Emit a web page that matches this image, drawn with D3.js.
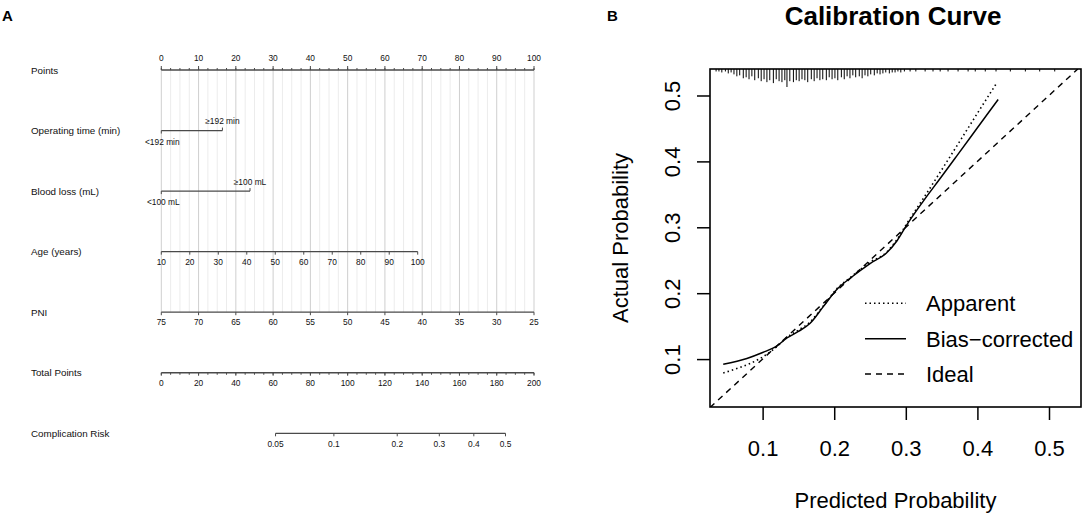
<!DOCTYPE html>
<html><head><meta charset="utf-8">
<script src="https://cdn.jsdelivr.net/npm/d3@7"></script>
<style>body{margin:0;background:#fff}svg{display:block;font-family:"Liberation Sans",Arial,sans-serif}</style>
</head><body><svg id="c" width="1084" height="518"></svg>
<script>
// ---------- Nomogram data ----------
const rowLabels = ["Points","Operating time (min)","Blood loss (mL)","Age (years)","PNI","Total Points","Complication Risk"];
const pointsTicks = [0,10,20,30,40,50,60,70,80,90,100];
const opTimeCats = ["<192 min","\u2265192 min"];
const opTimePoints = [0,16.4];
const bloodCats = ["<100 mL","\u2265100 mL"];
const bloodPoints = [0,23.8];
const ageTicks = [10,20,30,40,50,60,70,80,90,100];
const ageRangePoints = [0,68.8];
const pniTicks = [75,70,65,60,55,50,45,40,35,30,25];
const pniRangePoints = [0,100];
const totalTicks = [0,20,40,60,80,100,120,140,160,180,200];
const riskTicks = [0.05,0.1,0.2,0.3,0.4,0.5];
const riskTotalPoints = [61.3,184.7]; // total points at risk 0.05 and 0.5

// ---------- Calibration data ----------
const calTicks = [0.1,0.2,0.3,0.4,0.5];
const xLim = [0.0265,0.5447];
const yLim = [0.0273,0.5402];
const apparentX = [0.045,0.070,0.095,0.120,0.134,0.150,0.166,0.185,0.203,0.225,0.250,0.273,0.288,0.301,0.324,0.350,0.371,0.400,0.427];
const apparentY = [0.079,0.088,0.100,0.119,0.133,0.144,0.156,0.181,0.206,0.226,0.247,0.262,0.282,0.305,0.343,0.387,0.423,0.473,0.519];
const biasX = [0.045,0.078,0.100,0.120,0.134,0.150,0.166,0.185,0.203,0.225,0.250,0.273,0.288,0.301,0.324,0.350,0.371,0.400,0.429];
const biasY = [0.092,0.101,0.110,0.120,0.132,0.142,0.154,0.180,0.205,0.225,0.245,0.261,0.280,0.303,0.339,0.377,0.408,0.451,0.494];
const rugP = [0.035,0.039,0.043,0.048,0.052,0.056,0.060,0.064,0.068,0.073,0.077,0.081,0.085,0.089,0.094,0.098,0.102,0.106,0.110,0.115,0.119,0.123,0.127,0.131,0.134,0.138,0.143,0.147,0.151,0.155,0.159,0.163,0.168,0.172,0.176,0.180,0.184,0.189,0.193,0.197,0.201,0.205,0.210,0.214,0.218,0.222,0.226,0.230,0.235,0.239,0.243,0.247,0.251,0.256,0.260,0.264,0.268,0.272,0.277,0.281,0.285,0.289,0.293,0.298,0.306,0.314,0.327,0.338,0.348,0.359,0.373,0.387,0.397,0.411,0.426,0.446,0.467,0.487,0.508];
const rugN = [1,1,2,1,3,2,4,6,5,8,7,9,6,10,8,11,9,12,10,13,9,11,12,10,17,11,12,10,11,9,10,12,9,11,8,10,9,10,7,9,8,10,7,9,6,8,5,7,6,8,5,6,4,5,3,4,3,2,3,2,2,1,2,1,1,1,1,1,1,1,1,1,1,1,1,1,1,1,1];
const legendLabels = ["Apparent","Bias\u2212corrected","Ideal"];

const svg = d3.select("#c");
const FONT = '"Liberation Sans",Arial,sans-serif';

// ================= Panel A : nomogram =================
const A = svg.append("g");
A.append("text").attr("x",2).attr("y",20.5).attr("font-weight","bold").attr("font-size",15).text("A");

const px = d3.scaleLinear([0,100],[161.3,534]);
const ny = d3.scalePoint(rowLabels,[70,433.3]);
const totalX = d3.scaleLinear([0,200],[px(0),px(100)]);
const ageX = d3.scaleLinear([ageTicks[0],ageTicks[ageTicks.length-1]],[px(ageRangePoints[0]),px(ageRangePoints[1])]);
const pniX = d3.scaleLinear([pniTicks[0],pniTicks[pniTicks.length-1]],[px(pniRangePoints[0]),px(pniRangePoints[1])]);
const logit = p => Math.log(p/(1-p));
const riskX = d3.scaleLinear([logit(riskTicks[0]),logit(riskTicks[riskTicks.length-1])],[totalX(riskTotalPoints[0]),totalX(riskTotalPoints[1])]);

// gridlines
const gTop = ny("Points"), gBot = ny("PNI");
const gridVals = d3.range(0,100.001,2.5);
A.append("g").selectAll("line").data(gridVals).join("line")
  .attr("x1",d=>px(d)).attr("x2",d=>px(d)).attr("y1",gTop).attr("y2",gBot)
  .attr("stroke",d=>d%10===0?"#cfcfcf":"#ececec").attr("stroke-width",1);

// row labels
A.append("g").selectAll("text").data(rowLabels).join("text")
  .attr("x",31).attr("y",d=>ny(d)+3.5).attr("font-size",9.8).attr("fill","#111").text(d=>d);

const axCol = "#4a4a4a";
function hline(y,x1,x2){A.append("line").attr("x1",x1).attr("x2",x2).attr("y1",y).attr("y2",y).attr("stroke",axCol).attr("stroke-width",1.3);}
function ticks(vals,scale,y,len){A.append("g").selectAll("line").data(vals).join("line")
  .attr("x1",d=>scale(d)).attr("x2",d=>scale(d)).attr("y1",y).attr("y2",y+len).attr("stroke",axCol).attr("stroke-width",1);}
function labels(vals,scale,y,fmt){A.append("g").selectAll("text").data(vals).join("text")
  .attr("x",d=>scale(d)).attr("y",y).attr("text-anchor","middle").attr("font-size",8.4).attr("fill","#111").text(fmt||(d=>d));}

// Points
let y = ny("Points");
hline(y,px(0),px(100));
ticks(d3.range(0,100.001,2.5),px,y,-2);
ticks(pointsTicks,px,y,-4);
labels(pointsTicks,px,y-8.7);

// Operating time
y = ny("Operating time (min)");
hline(y,px(opTimePoints[0]),px(opTimePoints[1]));
A.append("line").attr("x1",px(opTimePoints[0])).attr("x2",px(opTimePoints[0])).attr("y1",y).attr("y2",y+3).attr("stroke",axCol);
A.append("line").attr("x1",px(opTimePoints[1])).attr("x2",px(opTimePoints[1])).attr("y1",y).attr("y2",y-3).attr("stroke",axCol);
A.append("text").attr("x",px(opTimePoints[0])+1).attr("y",y+14).attr("text-anchor","middle").attr("font-size",8.4).attr("fill","#111").text(opTimeCats[0]);
A.append("text").attr("x",px(opTimePoints[1])).attr("y",y-6.3).attr("text-anchor","middle").attr("font-size",8.4).attr("fill","#111").text(opTimeCats[1]);

// Blood loss
y = ny("Blood loss (mL)");
hline(y,px(bloodPoints[0]),px(bloodPoints[1]));
A.append("line").attr("x1",px(bloodPoints[0])).attr("x2",px(bloodPoints[0])).attr("y1",y).attr("y2",y+3).attr("stroke",axCol);
A.append("line").attr("x1",px(bloodPoints[1])).attr("x2",px(bloodPoints[1])).attr("y1",y).attr("y2",y-3).attr("stroke",axCol);
A.append("text").attr("x",px(bloodPoints[0])+2).attr("y",y+13.5).attr("text-anchor","middle").attr("font-size",8.4).attr("fill","#111").text(bloodCats[0]);
A.append("text").attr("x",px(bloodPoints[1])).attr("y",y-6.3).attr("text-anchor","middle").attr("font-size",8.4).attr("fill","#111").text(bloodCats[1]);

// Age
y = ny("Age (years)");
hline(y,ageX(10),ageX(100));
ticks(ageTicks,ageX,y,3);
labels(ageTicks,ageX,y+13);

// PNI
y = ny("PNI");
hline(y,pniX(75),pniX(25));
ticks(pniTicks,pniX,y,3);
labels(pniTicks,pniX,y+13);

// Total points
y = ny("Total Points");
hline(y,totalX(0),totalX(200));
ticks(d3.range(0,200.001,5),totalX,y,2);
ticks(totalTicks,totalX,y,3);
labels(totalTicks,totalX,y+13);

// Complication risk
y = ny("Complication Risk");
const rx = d => riskX(logit(d));
hline(y,rx(riskTicks[0]),rx(riskTicks[riskTicks.length-1]));
ticks(riskTicks,rx,y,3);
labels(riskTicks,rx,y+13.7,d=>String(d));

// ================= Panel B : calibration =================
const B = svg.append("g");
B.append("text").attr("x",607).attr("y",20.5).attr("font-weight","bold").attr("font-size",15).text("B");
const box = {l:710,r:1081,t:69,b:407};
const cx = d3.scaleLinear(xLim,[box.l,box.r]);
const cy = d3.scaleLinear(yLim,[box.b,box.t]);

B.append("text").attr("x",893).attr("y",24.5).attr("text-anchor","middle")
  .attr("font-weight","bold").attr("font-size",26).text("Calibration Curve");

B.append("clipPath").attr("id","clip").append("rect").attr("x",box.l).attr("y",box.t).attr("width",box.r-box.l).attr("height",box.b-box.t);

// axes
const xAxis = d3.axisBottom(cx).tickValues(calTicks).tickSize(13).tickSizeOuter(0).tickPadding(8).tickFormat(d3.format(".1f"));
const gx = B.append("g").attr("transform",`translate(0,${box.b})`).call(xAxis);
gx.select(".domain").remove();
gx.selectAll("line").attr("stroke","#000").attr("stroke-width",1.5);
gx.selectAll("text").attr("font-size",22).attr("font-family",FONT).attr("fill","#000").attr("dy",null).attr("y",49);

const yAxis = d3.axisLeft(cy).tickValues(calTicks).tickSize(13).tickSizeOuter(0).tickFormat(d3.format(".1f"));
const gy = B.append("g").attr("transform",`translate(${box.l},0)`).call(yAxis);
gy.select(".domain").remove();
gy.selectAll("line").attr("stroke","#000").attr("stroke-width",1.5);
gy.selectAll("text").attr("font-size",22).attr("font-family",FONT).attr("fill","#000")
  .attr("x",null).attr("dy",null).attr("text-anchor","middle")
  .attr("transform","translate(-30,0) rotate(-90)");

B.append("text").attr("x",(box.l+box.r)/2).attr("y",508).attr("text-anchor","middle").attr("font-size",22).text("Predicted Probability");
B.append("text").attr("transform",`translate(628,${(box.t+box.b)/2}) rotate(-90)`).attr("text-anchor","middle").attr("font-size",22).text("Actual Probability");

const plot = B.append("g").attr("clip-path","url(#clip)");
// ideal
plot.append("line").attr("x1",cx(xLim[0])).attr("y1",cy(xLim[0])).attr("x2",cx(yLim[1])).attr("y2",cy(yLim[1]))
  .attr("stroke","#000").attr("stroke-width",1.4).attr("stroke-dasharray","6,5");
const line = d3.line().x(d=>cx(d[0])).y(d=>cy(d[1])).curve(d3.curveMonotoneX);
plot.append("path").datum(apparentX.map((v,i)=>[v,apparentY[i]])).attr("d",line).attr("fill","none")
  .attr("stroke","#000").attr("stroke-width",1.6).attr("stroke-dasharray","1.5,3");
plot.append("path").datum(biasX.map((v,i)=>[v,biasY[i]])).attr("d",line).attr("fill","none")
  .attr("stroke","#000").attr("stroke-width",1.5);

// rug
const rh = d3.scaleLinear([0,d3.max(rugN)],[1.5,18]);
plot.append("g").selectAll("line").data(rugP.map((p,i)=>[p,rugN[i]])).join("line")
  .attr("x1",d=>cx(d[0])).attr("x2",d=>cx(d[0])).attr("y1",box.t).attr("y2",d=>box.t+rh(d[1]))
  .attr("stroke","#000").attr("stroke-width",1);

// box
B.append("rect").attr("x",box.l).attr("y",box.t).attr("width",box.r-box.l).attr("height",box.b-box.t)
  .attr("fill","none").attr("stroke","#000").attr("stroke-width",1.6);

// legend
const legY = d3.scalePoint(legendLabels,[303.3,374]);
const dashes = ["1.5,3",null,"6,5"];
const leg = B.append("g");
leg.selectAll("line").data(legendLabels).join("line")
  .attr("x1",865).attr("x2",906).attr("y1",d=>legY(d)).attr("y2",d=>legY(d))
  .attr("stroke","#000").attr("stroke-width",1.5).attr("stroke-dasharray",(d,i)=>dashes[i]);
leg.selectAll("text").data(legendLabels).join("text")
  .attr("x",926).attr("y",d=>legY(d)+8).attr("font-size",22).text(d=>d);
</script></body></html>
